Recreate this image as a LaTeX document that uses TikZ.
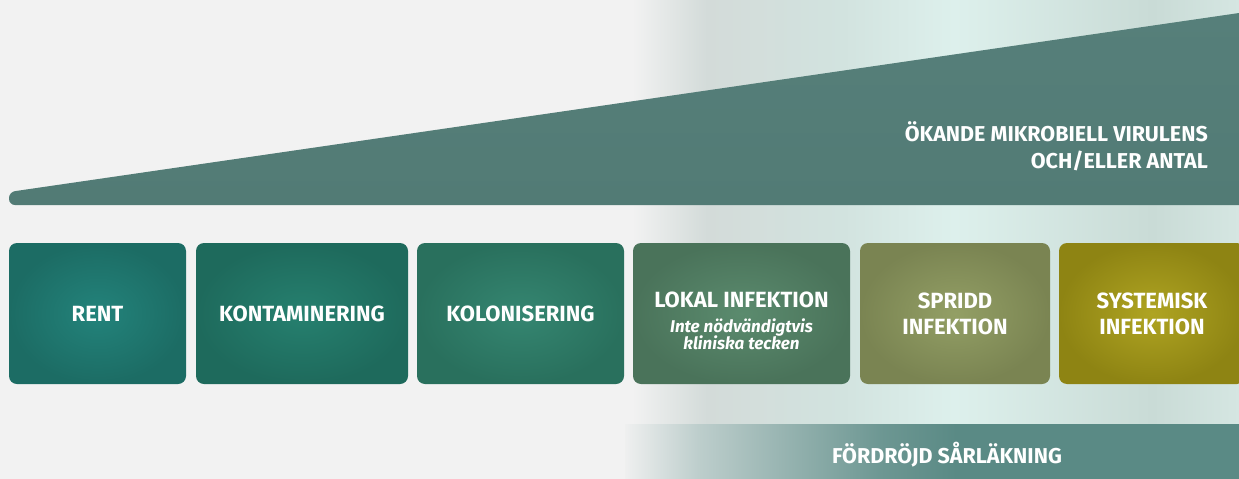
\documentclass[tikz,border=0pt]{standalone}
\usepackage{fontspec}
\setmainfont{Fira Sans}
\usetikzlibrary{positioning}

\definecolor{bggray}{HTML}{F2F2F2}
\definecolor{glowA}{HTML}{D3DBD9}
\definecolor{glowB}{HTML}{D2E3DF}
\definecolor{glowC}{HTML}{DDF0EC}
\definecolor{glowD}{HTML}{C9DBD6}
\definecolor{glowE}{HTML}{D5E6E2}
\definecolor{wedgetop}{HTML}{567F7A}
\definecolor{wedgemid}{HTML}{5C8C87}
\definecolor{wedgebot}{HTML}{527B75}
\definecolor{barteal}{HTML}{5A8A85}
\definecolor{rentin}{HTML}{23837B}
\definecolor{rentout}{HTML}{1C6C64}
\definecolor{kontin}{HTML}{26806F}
\definecolor{kontout}{HTML}{1E6A5C}
\definecolor{kolin}{HTML}{358671}
\definecolor{kolout}{HTML}{29705D}
\definecolor{lokin}{HTML}{5B8B6E}
\definecolor{lokout}{HTML}{4A735A}
\definecolor{sprin}{HTML}{939F65}
\definecolor{sprout}{HTML}{7A8452}
\definecolor{sysin}{HTML}{AFA422}
\definecolor{sysout}{HTML}{8E8413}

\pgfdeclarehorizontalshading{glow}{100bp}{color(0bp)=(bggray); color(26bp)=(bggray);
  color(32bp)=(glowA); color(43bp)=(glowB); color(52bp)=(glowC); color(68bp)=(glowD);
  color(75bp)=(glowE); color(100bp)=(glowE)}
\pgfdeclarehorizontalshading{barfade}{100bp}{color(0bp)=(bggray!90!glowA); color(25bp)=(bggray!90!glowA);
  color(31bp)=(barteal!35!bggray); color(38bp)=(barteal!60!bggray); color(46bp)=(barteal!88!bggray);
  color(52bp)=(barteal); color(100bp)=(barteal)}

\tikzset{
	stage/.style = {rounded corners=8pt, minimum height=141pt, inner sep=0pt, outer sep=0pt,
	 text=white, align=center, font=\fontsize{22}{26}\selectfont\bfseries},
	banner/.style = {text=white, inner sep=0pt, font=\fontsize{21.5}{27}\selectfont\bfseries}
}
\newcommand{\subline}{\fontsize{17}{17}\selectfont\bfseries\itshape}

\begin{document}
\begin{tikzpicture}[x=1pt, y=-1pt]

\useasboundingbox (0,0) rectangle (1239,479);
\clip (0,0) rectangle (1239,479);

% BACKGROUND
\fill[bggray] (0,0) rectangle (1239,479);
\shade[shading=glow] (620,0) rectangle (1239,479);

% wedge
\shade[top color=wedgetop, middle color=wedgemid, bottom color=wedgebot, rounded corners=6pt]
	(1246,12) -- (1246,205) -- (9,205) -- (9,192) -- cycle;
\node (virulens) [banner, anchor=east, align=right] at (1208,146)
	{ÖKANDE MIKROBIELL VIRULENS\\OCH/ELLER ANTAL};

% NODES
\node (rent) [stage, minimum width=177pt, inner color=rentin, outer color=rentout,
	anchor=north west] at (9,243) {RENT};
\node (kont) [stage, minimum width=212pt, inner color=kontin, outer color=kontout,
	right=10pt of rent] {KONTAMINERING};
\node (kolon) [stage, minimum width=207pt, inner color=kolin, outer color=kolout,
	right=9pt of kont] {KOLONISERING};
\node (lokal) [stage, minimum width=217pt, inner color=lokin, outer color=lokout,
	right=9pt of kolon] {\rule{0pt}{30pt}LOKAL INFEKTION\\[-1pt]{\subline Inte nödvändigtvis}\\[-9pt]{\subline kliniska tecken}};
\node (spridd) [stage, minimum width=190pt, inner color=sprin, outer color=sprout,
	right=10pt of lokal] {SPRIDD\\INFEKTION};
\node (system) [stage, minimum width=186pt, inner color=sysin, outer color=sysout,
	right=9pt of spridd] {SYSTEMISK\\INFEKTION};

% delayed healing bar
\shade[shading=barfade] (625,424) rectangle (1239,479);
\node (delay) [banner] at (947,455) {FÖRDRÖJD SÅRLÄKNING};

\end{tikzpicture}
\end{document}
